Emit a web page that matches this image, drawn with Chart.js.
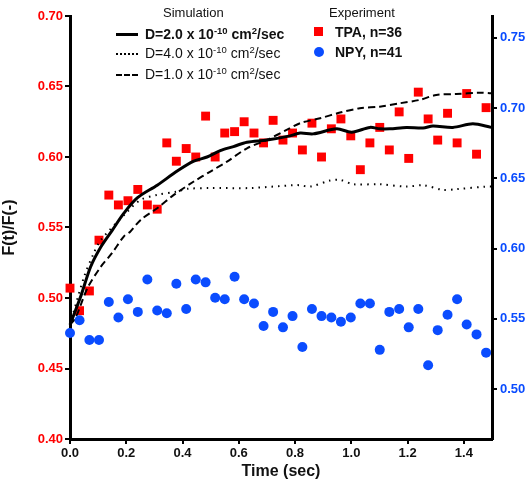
<!DOCTYPE html>
<html>
<head>
<meta charset="utf-8">
<script src="https://cdn.jsdelivr.net/npm/chart.js@4"></script>
<style>
  body { margin: 0; background: #fff; font-family: Arial, "Liberation Sans", sans-serif; }
  #wrap { position: relative; width: 532px; height: 483px; }
  .lg { position: absolute; font-size: 13px; color: #111; white-space: nowrap; line-height: 13px; }
  .row { font-size: 14px; line-height: 14px; }
  .lg sup { font-size: 9.5px; vertical-align: 5px; line-height: 0; }
  .smp { position: absolute; width: 22px; height: 0; }
</style>
</head>
<body>
<div id="wrap">
  <canvas id="chart" width="532" height="483"></canvas>

  <div class="lg" style="left:163px; top:6px;">Simulation</div>
  <div class="smp" style="left:116px; top:33px; border-top:3px solid #000;"></div>
  <div class="lg row" style="left:145px; top:27px; font-weight:bold;">D=2.0 x 10<sup>-10</sup> cm<sup>2</sup>/sec</div>
  <div class="smp" style="left:116px; top:53px; border-top:2px dotted #000;"></div>
  <div class="lg row" style="left:145px; top:46px;">D=4.0 x 10<sup>-10</sup> cm<sup>2</sup>/sec</div>
  <div class="smp" style="left:116px; top:74px; border-top:2px dashed #000;"></div>
  <div class="lg row" style="left:145px; top:67px;">D=1.0 x 10<sup>-10</sup> cm<sup>2</sup>/sec</div>

  <div class="lg" style="left:329px; top:6px;">Experiment</div>
  <div style="position:absolute; left:314px; top:27px; width:9px; height:9px; background:#ff0000;"></div>
  <div class="lg row" style="left:335px; top:25px; font-weight:bold;">TPA, n=36</div>
  <div style="position:absolute; left:314px; top:47px; width:10px; height:10px; border-radius:50%; background:#0a4cff;"></div>
  <div class="lg row" style="left:335px; top:45px; font-weight:bold;">NPY, n=41</div>
</div>

<script>
// experiment frame times (sec)
const frameTimes = [0.000, 0.034, 0.069, 0.103, 0.138, 0.172, 0.206, 0.241, 0.275, 0.310, 0.344,
  0.378, 0.413, 0.447, 0.482, 0.516, 0.550, 0.585, 0.619, 0.654, 0.688, 0.722, 0.757, 0.791,
  0.826, 0.860, 0.894, 0.929, 0.963, 0.998, 1.032, 1.066, 1.101, 1.135, 1.170, 1.204, 1.238,
  1.273, 1.307, 1.342, 1.376, 1.410, 1.445, 1.479];

// TPA (left axis)
const tpaValues = [0.507, 0.491, 0.505, 0.541, 0.573, 0.566, 0.569, 0.577, 0.566, 0.563, 0.610,
  0.597, 0.606, 0.600, 0.629, 0.600, 0.617, 0.618, 0.625, 0.617, 0.610, 0.626, 0.612, 0.617,
  0.605, 0.624, 0.600, 0.620, 0.627, 0.615, 0.591, 0.610, 0.621, 0.605, 0.632, 0.599, 0.646,
  0.627, 0.612, 0.631, 0.610, 0.645, 0.602, 0.635];

// NPY (right axis)
const npyValues = [0.540, 0.549, 0.535, 0.535, 0.562, 0.551, 0.564, 0.555, 0.578, 0.556, 0.554,
  0.575, 0.557, 0.578, 0.576, 0.565, 0.564, 0.580, 0.564, 0.561, 0.545, 0.555, 0.544, 0.552,
  0.530, 0.557, 0.552, 0.551, 0.548, 0.551, 0.561, 0.561, 0.528, 0.555, 0.557, 0.544, 0.557,
  0.517, 0.542, 0.553, 0.564, 0.546, 0.539, 0.526];

// simulation D=2.0
const sim2T = [0, 0.038, 0.073, 0.109, 0.150, 0.191, 0.239, 0.310, 0.381, 0.440, 0.487, 0.534,
  0.581, 0.629, 0.700, 0.782, 0.818, 0.864, 0.948, 1.001, 1.066, 1.101, 1.137, 1.196, 1.255,
  1.290, 1.361, 1.432, 1.497];
const sim2V = [0.481, 0.501, 0.522, 0.536, 0.548, 0.560, 0.571, 0.580, 0.590, 0.597, 0.600, 0.6045,
  0.6074, 0.6105, 0.612, 0.615, 0.617, 0.6164, 0.620, 0.6176, 0.621, 0.620, 0.620, 0.621, 0.6206,
  0.622, 0.621, 0.6235, 0.621];

// simulation D=4.0
const sim4T = [0, 0.050, 0.085, 0.109, 0.203, 0.251, 0.310, 0.381, 0.416, 0.499, 0.640, 0.793,
  0.818, 0.853, 0.924, 0.960, 1.007, 1.101, 1.196, 1.255, 1.326, 1.373, 1.479, 1.498];
const sim4V = [0.481, 0.515, 0.532, 0.541, 0.561, 0.5696, 0.5731, 0.5755, 0.5774, 0.578, 0.578, 0.580,
  0.580, 0.579, 0.5833, 0.5838, 0.5807, 0.5807, 0.579, 0.580, 0.5767, 0.5772, 0.579, 0.579];

// simulation D=1.0
const sim1T = [0, 0.020, 0.062, 0.109, 0.150, 0.191, 0.214, 0.251, 0.310, 0.369, 0.440, 0.499,
  0.558, 0.629, 0.700, 0.770, 0.818, 0.889, 0.960, 1.030, 1.101, 1.172, 1.243, 1.302, 1.373,
  1.455, 1.497];
const sim1V = [0.481, 0.486, 0.507, 0.522, 0.532, 0.5436, 0.547, 0.5554, 0.5637, 0.5731, 0.5826,
  0.5897, 0.5967, 0.6062, 0.6121, 0.6192, 0.624, 0.6275, 0.6315, 0.6346, 0.6357, 0.6381, 0.6405,
  0.644, 0.6447, 0.6456, 0.6452];

const xTicks = [0, 0.2, 0.4, 0.6, 0.8, 1.0, 1.2, 1.4];
const leftTicks = [0.40, 0.45, 0.50, 0.55, 0.60, 0.65, 0.70];
const rightTicks = [0.50, 0.55, 0.60, 0.65, 0.70, 0.75];

const RED = '#ff0000';
const BLUE = '#0a4cff';

function pairs(xs, ys) {
  return xs.map((x, i) => ({ x: x, y: ys[i] }));
}

const fontTick = { family: 'Arial, "Liberation Sans", sans-serif', size: 13, weight: 'bold' };
const fontTitle = { family: 'Arial, "Liberation Sans", sans-serif', size: 16, weight: 'bold' };

const axisGrid = {
  drawOnChartArea: false,
  drawTicks: true,
  tickLength: 5,
  color: '#000',
  lineWidth: 2
};
const axisBorder = { display: true, color: '#000', width: 3 };

const data = {
  datasets: [
    {
      label: 'NPY, n=41', type: 'scatter', yAxisID: 'y1',
      data: pairs(frameTimes, npyValues),
      pointStyle: 'circle', pointRadius: 5, pointBackgroundColor: BLUE, pointBorderWidth: 0
    },
    {
      label: 'D=2.0', type: 'line', yAxisID: 'y',
      data: pairs(sim2T, sim2V),
      borderColor: '#000', borderWidth: 3, pointRadius: 0, tension: 0.3, fill: false
    },
    {
      label: 'D=4.0', type: 'line', yAxisID: 'y',
      data: pairs(sim4T, sim4V),
      borderColor: '#000', borderWidth: 2, borderDash: [1.5, 5], pointRadius: 0, tension: 0.3, fill: false
    },
    {
      label: 'D=1.0', type: 'line', yAxisID: 'y',
      data: pairs(sim1T, sim1V),
      borderColor: '#000', borderWidth: 2, borderDash: [7, 4], pointRadius: 0, tension: 0.3, fill: false
    },
    {
      label: 'TPA, n=36', type: 'scatter', yAxisID: 'y',
      data: pairs(frameTimes, tpaValues),
      pointStyle: 'rect', pointRadius: 6.3, pointBackgroundColor: RED, pointBorderWidth: 0
    }
  ]
};

const config = {
  type: 'scatter',
  data: data,
  options: {
    responsive: false,
    animation: false,
    clip: false,
    layout: { padding: { top: 16, left: 0, right: 0, bottom: 0 } },
    plugins: { legend: { display: false }, tooltip: { enabled: false } },
    scales: {
      x: {
        type: 'linear', min: 0, max: 1.5,
        afterBuildTicks: s => { s.ticks = xTicks.map(v => ({ value: v })); },
        afterFit: s => { s.height = 44; },
        ticks: { color: '#111', font: fontTick, padding: 2, maxRotation: 0,
                 callback: v => v.toFixed(1) },
        grid: axisGrid, border: axisBorder,
        title: { display: true, text: 'Time (sec)', color: '#111', font: fontTitle, padding: { top: 0, bottom: 2 } }
      },
      y: {
        type: 'linear', position: 'left', min: 0.40, max: 0.70,
        afterBuildTicks: s => { s.ticks = leftTicks.map(v => ({ value: v })); },
        afterFit: s => { s.width = 70; },
        ticks: { color: RED, font: fontTick, padding: 2, callback: v => v.toFixed(2) },
        grid: axisGrid, border: axisBorder,
        title: { display: true, text: 'F(t)/F(-)', color: '#111', font: fontTitle, padding: { top: 0, bottom: 4 } }
      },
      y1: {
        type: 'linear', position: 'right', min: 0.4646, max: 0.7654,
        afterBuildTicks: s => { s.ticks = rightTicks.map(v => ({ value: v })); },
        afterFit: s => { s.width = 40; },
        ticks: { color: BLUE, font: fontTick, padding: 3, callback: v => v.toFixed(2) },
        grid: axisGrid, border: axisBorder
      }
    }
  }
};

let chart = new Chart('chart', config);
</script>
</body>
</html>
